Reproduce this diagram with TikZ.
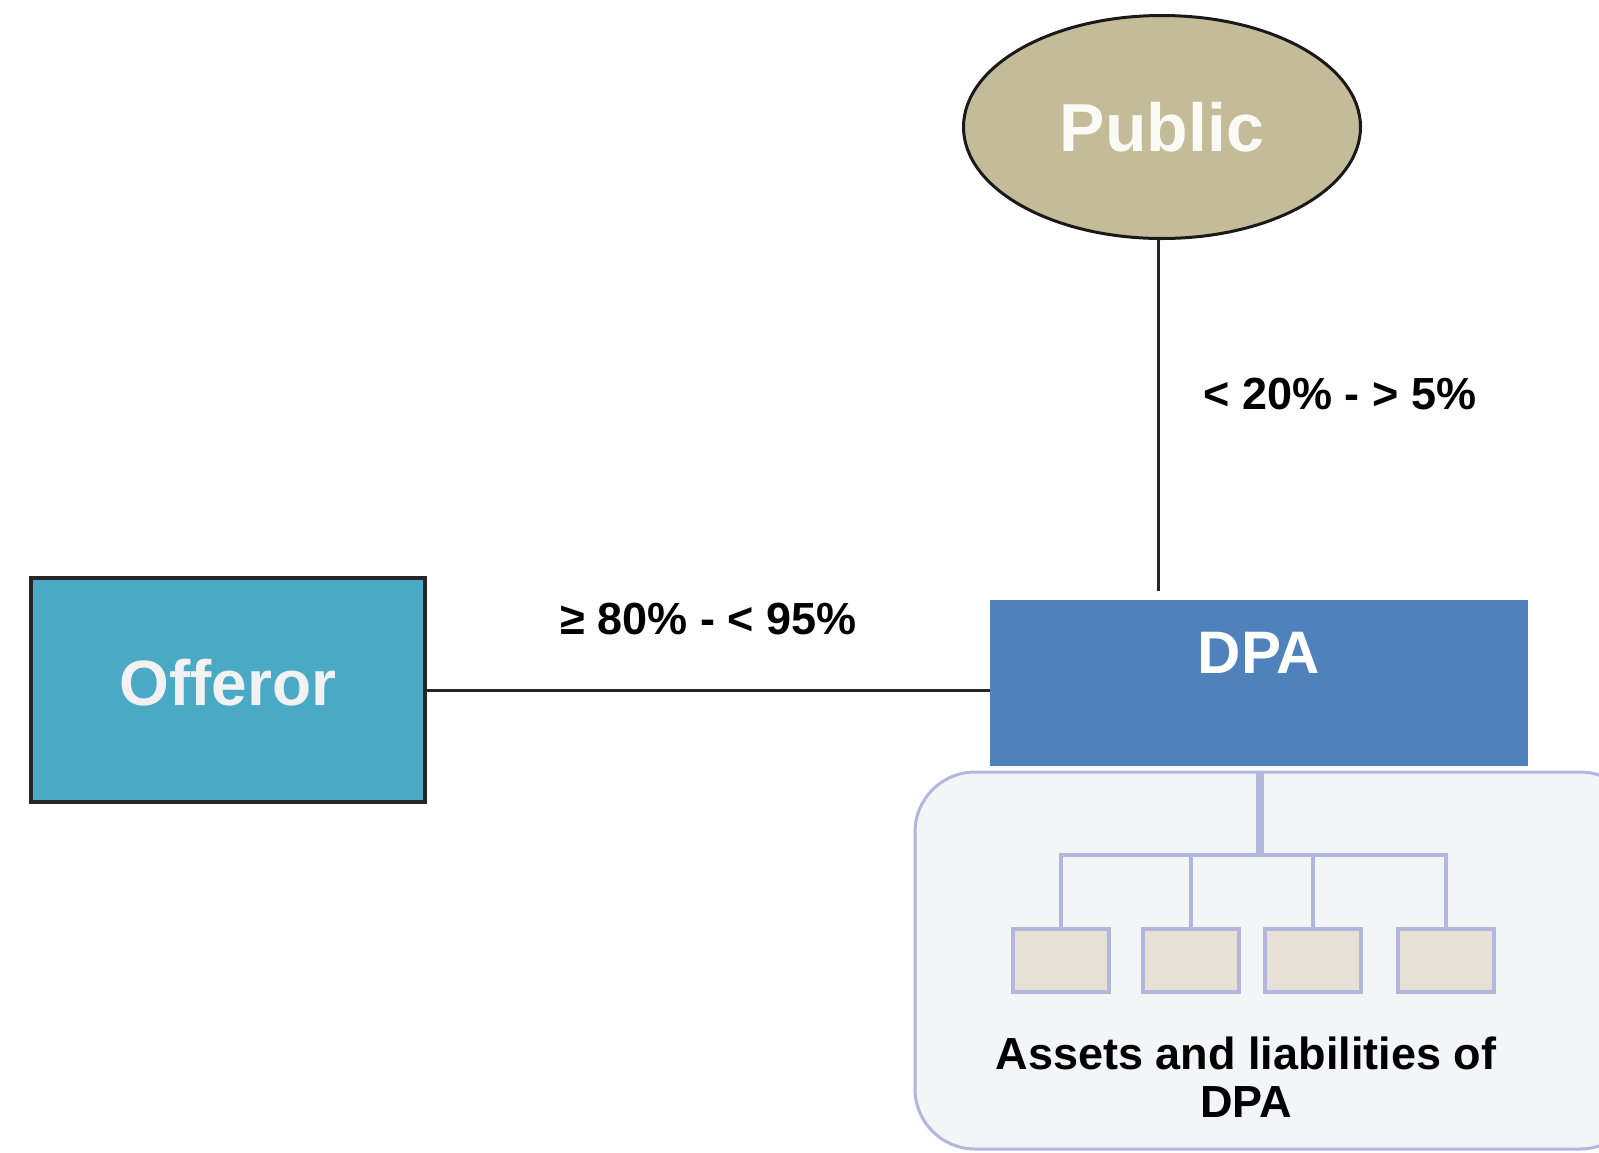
\documentclass[tikz,border=0pt]{standalone}
\usepackage{fontspec}
\setmainfont{Liberation Sans}
\usepackage{tikz}
\usetikzlibrary{shapes.geometric}
\definecolor{offerorblue}{HTML}{4AAAC5}
\definecolor{dpablue}{HTML}{4F81BD}
\definecolor{publictan}{HTML}{C4BB98}
\definecolor{panelfill}{HTML}{F3F5F7}
\definecolor{panelline}{HTML}{B3B7DD}
\definecolor{leaffill}{HTML}{E6E0D6}
\tikzset{
  link/.style={draw=black!85, line width=3pt},
  share/.style={inner sep=0pt, font=\fontsize{45}{48}\selectfont\bfseries},
  offerorbox/.style={draw=black!85, line width=4pt, fill=offerorblue,
    minimum width=394pt, minimum height=224pt, text depth=16pt,
    text=white!95!black, font=\fontsize{64}{70}\selectfont\bfseries},
  dpabox/.style={fill=dpablue, minimum width=538pt, minimum height=166pt,
    text depth=60pt, text=white, font=\fontsize{60}{66}\selectfont\bfseries},
  publicoval/.style={ellipse, draw=black!90, line width=3pt, fill=publictan,
    minimum width=397pt, minimum height=223pt, inner sep=0pt,
    text=white!92!publictan, font=\fontsize{68}{74}\selectfont\bfseries},
  panel/.style={draw=panelline, line width=3pt, fill=panelfill, rounded corners=60pt},
  leaf/.style={draw=panelline, line width=4pt, fill=leaffill,
    minimum width=96pt, minimum height=63pt, inner sep=0pt},
  branch/.style={draw=panelline, line width=4.5pt},
}

\begin{document}
\begin{tikzpicture}[x=1pt,y=-1pt]
\useasboundingbox (0,0) rectangle (1599,1152);
\clip (0,0) rectangle (1599,1152);

\node[publicoval] (public) at (1162,127) {Public};
\node[offerorbox] (offeror) at (228,690) {Offeror};
\node[dpabox] (dpa) at (1259,683) {DPA};
\coordinate (pubend) at (1158,591);

\draw[link] (public.south -| pubend) -- node[share, pos=.44, right=44pt] (pubshare) {< 20\% - > 5\%} (pubend);
\draw[link] (offeror.east) -- node[share, above=54pt] (offshare) {≥ 80\% - < 95\%} (offeror.east -| dpa.west);

% assets of DPA
\draw[panel] (915,772) rectangle (1640,1149);
\coordinate (trunk) at (1260,772);
\coordinate (fork) at (1260,855);
\draw[branch, line width=8pt] (trunk) -- (fork);
\foreach \i/\x in {1/1061,2/1191,3/1313,4/1446}{
  \node[leaf] (leaf\i) at (\x,960) {};
  \draw[branch] (leaf\i.north) |- (fork);
}
\node[share, align=center] (assets) at (1246,1077) {Assets and liabilities of\\DPA};
\end{tikzpicture}
\end{document}
